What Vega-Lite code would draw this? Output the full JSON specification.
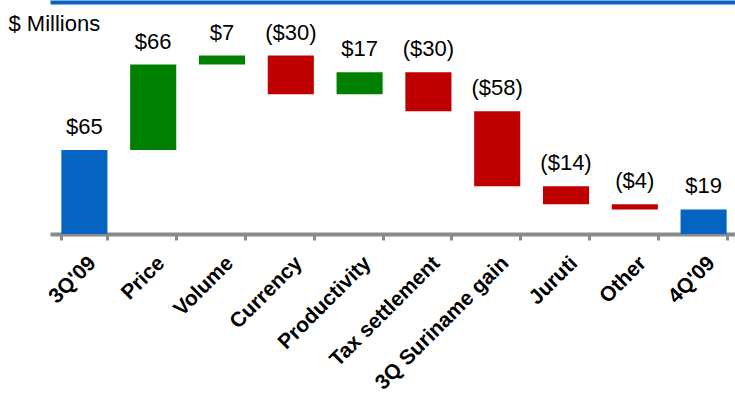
{
  "$schema": "https://vega.github.io/schema/vega-lite/v6.json",
  "width": 735,
  "height": 232,
  "autosize": {"type": "none"},
  "padding": {"left": 0, "top": 2, "right": 0, "bottom": 166},
  "background": "white",
  "data": {
    "values": [
      {"step": "3Q'09", "amount": 65, "from": 0, "to": 65, "kind": "total"},
      {"step": "Price", "amount": 66, "from": 65, "to": 131, "kind": "increase"},
      {"step": "Volume", "amount": 7, "from": 131, "to": 138, "kind": "increase"},
      {"step": "Currency", "amount": -30, "from": 138, "to": 108, "kind": "decrease"},
      {"step": "Productivity", "amount": 17, "from": 108, "to": 125, "kind": "increase"},
      {"step": "Tax settlement", "amount": -30, "from": 125, "to": 95, "kind": "decrease"},
      {"step": "3Q Suriname gain", "amount": -58, "from": 95, "to": 37, "kind": "decrease"},
      {"step": "Juruti", "amount": -14, "from": 37, "to": 23, "kind": "decrease"},
      {"step": "Other", "amount": -4, "from": 23, "to": 19, "kind": "decrease"},
      {"step": "4Q'09", "amount": 19, "from": 0, "to": 19, "kind": "total"}
    ]
  },
  "transform": [{"calculate": "max(datum.from, datum.to)", "as": "top"}],
  "layer": [
    {
      "mark": {"type": "bar"},
      "encoding": {
        "x": {
          "field": "step",
          "type": "nominal",
          "sort": null,
          "scale": {"range": [50, 738], "paddingInner": 0.33, "paddingOuter": 0.165},
          "axis": {
            "title": null,
            "labelAngle": -45,
            "labelFont": "Liberation Sans",
            "labelFontWeight": "bold",
            "labelFontSize": 21,
            "labelColor": "#000000",
            "labelPadding": 12,
            "labelOverlap": false,
            "labelLimit": 400,
            "tickBand": "extent",
            "tickColor": "#8a8a8a",
            "tickWidth": 3,
            "tickSize": 6,
            "domainColor": "#8a8a8a",
            "domainWidth": 4,
            "grid": false
          }
        },
        "y": {
          "field": "from",
          "type": "quantitative",
          "title": "$ Millions",
          "scale": {"domain": [0, 179.4], "nice": false, "zero": true},
          "axis": {
            "title": "$ Millions",
            "titleAngle": 0,
            "titleAlign": "left",
            "titleBaseline": "alphabetic",
            "titleX": 8,
            "titleY": 28,
            "titleFont": "Liberation Sans",
            "titleFontSize": 22,
            "titleFontWeight": "normal",
            "titleColor": "#000000",
            "values": [179.4],
            "grid": true,
            "gridColor": "#0563C1",
            "gridWidth": 4,
            "gridOpacity": 1,
            "domain": false,
            "ticks": false,
            "labels": false
          }
        },
        "y2": {"field": "to"},
        "color": {
          "field": "kind",
          "type": "nominal",
          "scale": {
            "domain": ["total", "increase", "decrease"],
            "range": ["#0563C1", "#008000", "#C00000"]
          },
          "legend": null
        }
      }
    },
    {
      "mark": {
        "type": "text",
        "font": "Liberation Sans",
        "fontSize": 22,
        "color": "#000000",
        "align": "center",
        "baseline": "alphabetic",
        "dy": -16
      },
      "encoding": {
        "x": {"field": "step", "type": "nominal", "sort": null},
        "y": {"field": "top", "type": "quantitative", "title": "$ Millions"},
        "text": {"field": "amount", "type": "quantitative", "format": "($.0f"}
      }
    }
  ],
  "config": {"view": {"stroke": null}}
}
